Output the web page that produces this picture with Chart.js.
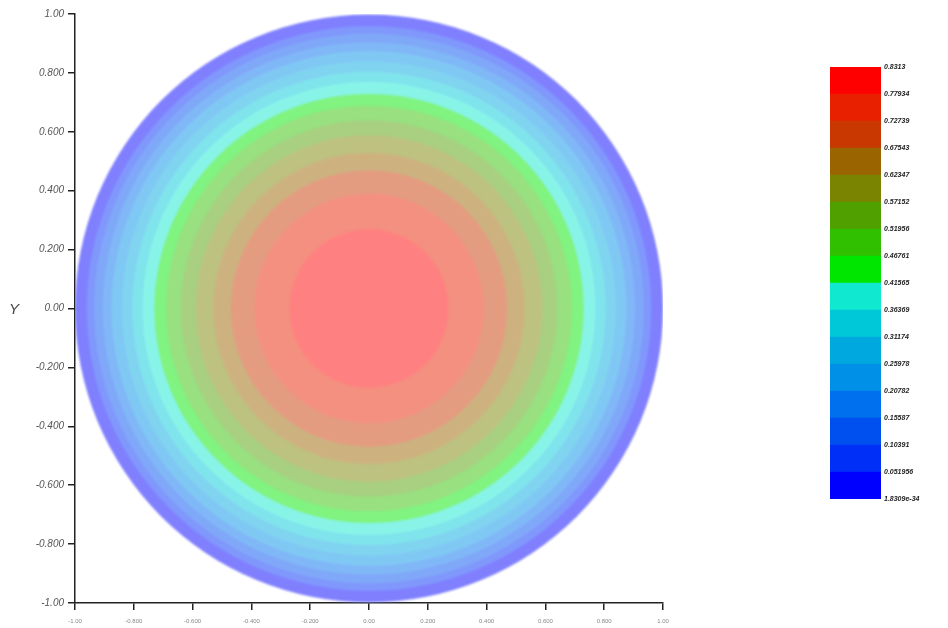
<!DOCTYPE html>
<html>
<head>
<meta charset="utf-8">
<script src="https://cdn.jsdelivr.net/npm/chart.js@4/dist/chart.umd.min.js"></script>
<style>
  html, body { margin: 0; padding: 0; background: #ffffff; }
  #wrap { position: relative; width: 948px; height: 628px; }
  #plot { position: absolute; left: 0; top: 0; }
  #bar { position: absolute; left: 826px; top: 0; }
</style>
</head>
<body>
<div id="wrap">
  <canvas id="plot" width="948" height="628"></canvas>
  <canvas id="bar" width="122" height="628"></canvas>
</div>
<script>
// Contour levels (lowest first) and their printed labels
const levels = [1.8309e-34, 0.051956, 0.10391, 0.15587, 0.20782, 0.25978, 0.31174, 0.36369,
                0.41565, 0.46761, 0.51956, 0.57152, 0.62347, 0.67543, 0.72739, 0.77934, 0.8313];
const levelLabels = ["1.8309e-34", "0.051956", "0.10391", "0.15587", "0.20782", "0.25978", "0.31174", "0.36369",
                     "0.41565", "0.46761", "0.51956", "0.57152", "0.62347", "0.67543", "0.72739", "0.77934", "0.8313"];

// Fill colour of each band between consecutive levels (lowest band first)
const bandColors = ["#0000ff", "#0030f8", "#0050f0", "#0070ee", "#0090e8", "#00a8e0", "#00c8d8", "#10e8d0",
                    "#00e600", "#30c000", "#50a000", "#7a8400", "#9a6400", "#c83800", "#e82000", "#ff0000"];

// Outer radius of each band on the disc (band k spans levels[k]..levels[k+1])
const bandRadius = [1.00, 0.96, 0.935, 0.905, 0.875, 0.84, 0.805, 0.77,
                    0.73, 0.69, 0.64, 0.59, 0.53, 0.47, 0.39, 0.27];

// Axis ticks
const axisTicks = [-1, -0.8, -0.6, -0.4, -0.2, 0, 0.2, 0.4, 0.6, 0.8, 1];
const axisTickLabels = ["-1.00", "-0.800", "-0.600", "-0.400", "-0.200", "0.00",
                        "0.200", "0.400", "0.600", "0.800", "1.00"];

const FONT = "'Liberation Sans', Arial, sans-serif";

// Washed-out version of a colour for the disc
function wash(hex, amount) {
  const n = parseInt(hex.slice(1), 16);
  const r = (n >> 16) & 255, g = (n >> 8) & 255, b = n & 255;
  const m = c => Math.round(c + (255 - c) * amount);
  return `rgb(${m(r)},${m(g)},${m(b)})`;
}

function setTicks(values) {
  return scale => { scale.ticks = values.map(v => ({ value: v })); };
}

// Disc bands, inner bands drawn on top of outer ones
const discSets = bandRadius.map((rad, k) => ({
  label: levelLabels[k],
  data: [{ x: 0, y: 0 }],
  backgroundColor: wash(bandColors[k], 0.5),
  borderWidth: 0,
  pointBorderWidth: 0,
  pointRadius: ctx => {
    const s = ctx.chart.scales.x;
    return Math.abs(s.getPixelForValue(rad) - s.getPixelForValue(0));
  },
  pointHoverRadius: 0,
  order: -k
}));

// Soft edges between the shaded bands
const softBands = {
  id: 'softBands',
  beforeDatasetsDraw(chart) { chart.ctx.save(); chart.ctx.filter = 'blur(1.2px)'; },
  afterDatasetsDraw(chart) { chart.ctx.restore(); }
};

const yTitle = {
  id: 'yTitle',
  afterDraw(chart) {
    const c = chart.ctx;
    const y = chart.scales.y.getPixelForValue(0);
    c.save();
    c.font = "italic 15px " + FONT;
    c.fillStyle = '#444';
    c.textAlign = 'left';
    c.textBaseline = 'middle';
    c.fillText('Y', 9, y + 1);
    c.restore();
  }
};

new Chart(document.getElementById('plot'), {
  type: 'scatter',
  data: { datasets: discSets },
  plugins: [softBands, yTitle],
  options: {
    responsive: false,
    animation: false,
    events: [],
    layout: { padding: { left: 0, top: 14, right: 285, bottom: 0 } },
    plugins: { legend: { display: false }, tooltip: { enabled: false } },
    scales: {
      x: {
        type: 'linear', min: -1, max: 1,
        afterBuildTicks: setTicks(axisTicks),
        afterFit: s => { s.height = 25; },
        grid: { drawOnChartArea: false, drawTicks: true, tickLength: 7, color: '#222', lineWidth: 1.5 },
        border: { display: true, color: '#222', width: 1.5 },
        ticks: {
          padding: 8, color: '#888', font: { size: 6, family: FONT },
          maxRotation: 0, autoSkip: false,
          callback: (v, i) => axisTickLabels[i]
        }
      },
      y: {
        type: 'linear', min: -1, max: 1,
        afterBuildTicks: setTicks(axisTicks),
        afterFit: s => { s.width = 75; },
        grid: { drawOnChartArea: false, drawTicks: true, tickLength: 7, color: '#222', lineWidth: 1.5 },
        border: { display: true, color: '#222', width: 1.5 },
        ticks: {
          padding: 4, color: '#555', font: { size: 10, style: 'italic', family: FONT },
          autoSkip: false,
          callback: (v, i) => axisTickLabels[i]
        }
      }
    }
  }
});

// Colour scale: one floating bar per band
const barSets = bandColors.map((col, k) => ({
  label: levelLabels[k],
  data: [[levels[k], levels[k + 1]]],
  backgroundColor: col,
  borderWidth: 0,
  grouped: false,
  barPercentage: 1,
  categoryPercentage: 1
}));

new Chart(document.getElementById('bar'), {
  type: 'bar',
  data: { labels: [''], datasets: barSets },
  options: {
    responsive: false,
    animation: false,
    events: [],
    layout: { padding: { left: 4, top: 67, right: 0, bottom: 129 } },
    plugins: { legend: { display: false }, tooltip: { enabled: false } },
    scales: {
      x: { display: false },
      y: {
        position: 'right',
        min: levels[0], max: levels[levels.length - 1],
        afterBuildTicks: setTicks(levels),
        afterFit: s => { s.width = 67; },
        grid: { display: false, drawTicks: false },
        border: { display: false },
        ticks: {
          padding: 3, color: '#222',
          font: { size: 7, style: 'italic', weight: 'bold', family: FONT },
          autoSkip: false,
          callback: (v, i) => levelLabels[i]
        }
      }
    }
  }
});
</script>
</body>
</html>
